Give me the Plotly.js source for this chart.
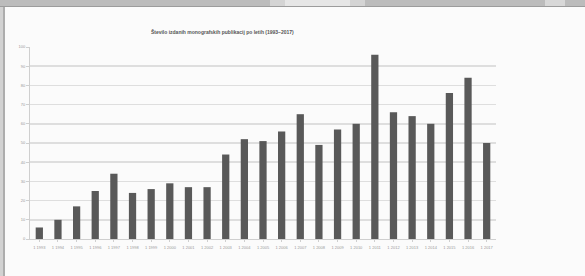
<!DOCTYPE html>
<html>
<head>
<meta charset="utf-8">
<script src="https://cdn.plot.ly/plotly-3.0.1.min.js"></script>
<style>
html,body{margin:0;padding:0;background:#fbfbfb;overflow:hidden;}
#chart{width:585px;height:276px;}
</style>
</head>
<body>
<div id="chart"></div>
<script>
const years = ["1993","1994","1995","1996","1997","1998","1999","2000","2001","2002","2003","2004","2005","2006","2007","2008","2009","2010","2011","2012","2013","2014","2015","2016","2017"];
const tickLabels = years.map(y => "1 " + y);
const counts = [6,10,17,25,34,24,26,29,27,27,44,52,51,56,65,49,57,60,96,66,64,60,76,84,50];
const yTicks = [0,10,20,30,40,50,60,70,80,90,100];
const chartTitle = "Število izdanih monografskih publikacij po letih (1993–2017)";

// frame decoration (photo border) in pixel -> paper helpers
const L = 30, R = 89, T = 47, B = 37, W = 585, H = 276;
const pw = W - L - R, ph = H - T - B;
const px = v => (v - L) / pw;
const py = v => 1 - (v - T) / ph;
function rect(x0, y0, x1, y1, color) {
  return {type: "rect", xref: "paper", yref: "paper", layer: "below",
          x0: px(x0), x1: px(x1), y0: py(y1), y1: py(y0),
          fillcolor: color, line: {width: 0}};
}
const shapes = [
  rect(0, 0, 585, 6, "#bcbcbc"),
  rect(270, 0, 285, 6, "#d4d4d4"),
  rect(285, 0, 350, 6, "#e6e6e6"),
  rect(350, 0, 365, 6, "#d4d4d4"),
  rect(545, 0, 565, 6, "#d8d8d8"),
  rect(0, 6, 585, 7, "#9c9c9c"),
  rect(0, 7, 3, 276, "#d2d2d2"),
  rect(3, 7, 5, 276, "#adadad")
];

const trace = {
  type: "bar",
  x: years,
  y: counts,
  marker: {color: "#595959", line: {width: 0}},
  hoverinfo: "skip"
};
const layout = {
  width: W, height: H,
  margin: {l: L, r: R, t: T, b: B},
  paper_bgcolor: "#fbfbfb",
  plot_bgcolor: "rgba(0,0,0,0)",
  bargap: 0.61,
  showlegend: false,
  shapes: shapes,
  title: {text: "<b>" + chartTitle + "</b>", font: {family: "Liberation Sans, Arial", size: 5, color: "#555"},
          xref: "container", x: 0.38, xanchor: "center", yref: "container", y: 0.884, yanchor: "middle"},
  xaxis: {
    type: "category",
    tickvals: years, ticktext: tickLabels,
    tickangle: 0,
    tickfont: {family: "Liberation Sans, Arial", size: 4, color: "#999"},
    showline: true, linecolor: "#cfcfcf", linewidth: 1,
    ticks: "outside", ticklen: 2, tickcolor: "#cfcfcf",
    showgrid: false, zeroline: false, ticklabelstandoff: 2
  },
  yaxis: {
    range: [0, 100],
    tickvals: yTicks,
    tickfont: {family: "Liberation Sans, Arial", size: 4, color: "#999"},
    showline: true, linecolor: "#cfcfcf", linewidth: 1,
    ticks: "outside", ticklen: 3, tickcolor: "#cfcfcf",
    showgrid: true, gridcolor: "#dedede", gridwidth: 1.5,
    zeroline: false
  }
};
Plotly.newPlot("chart", [trace], layout, {staticPlot: true, displayModeBar: false});
</script>
</body>
</html>
